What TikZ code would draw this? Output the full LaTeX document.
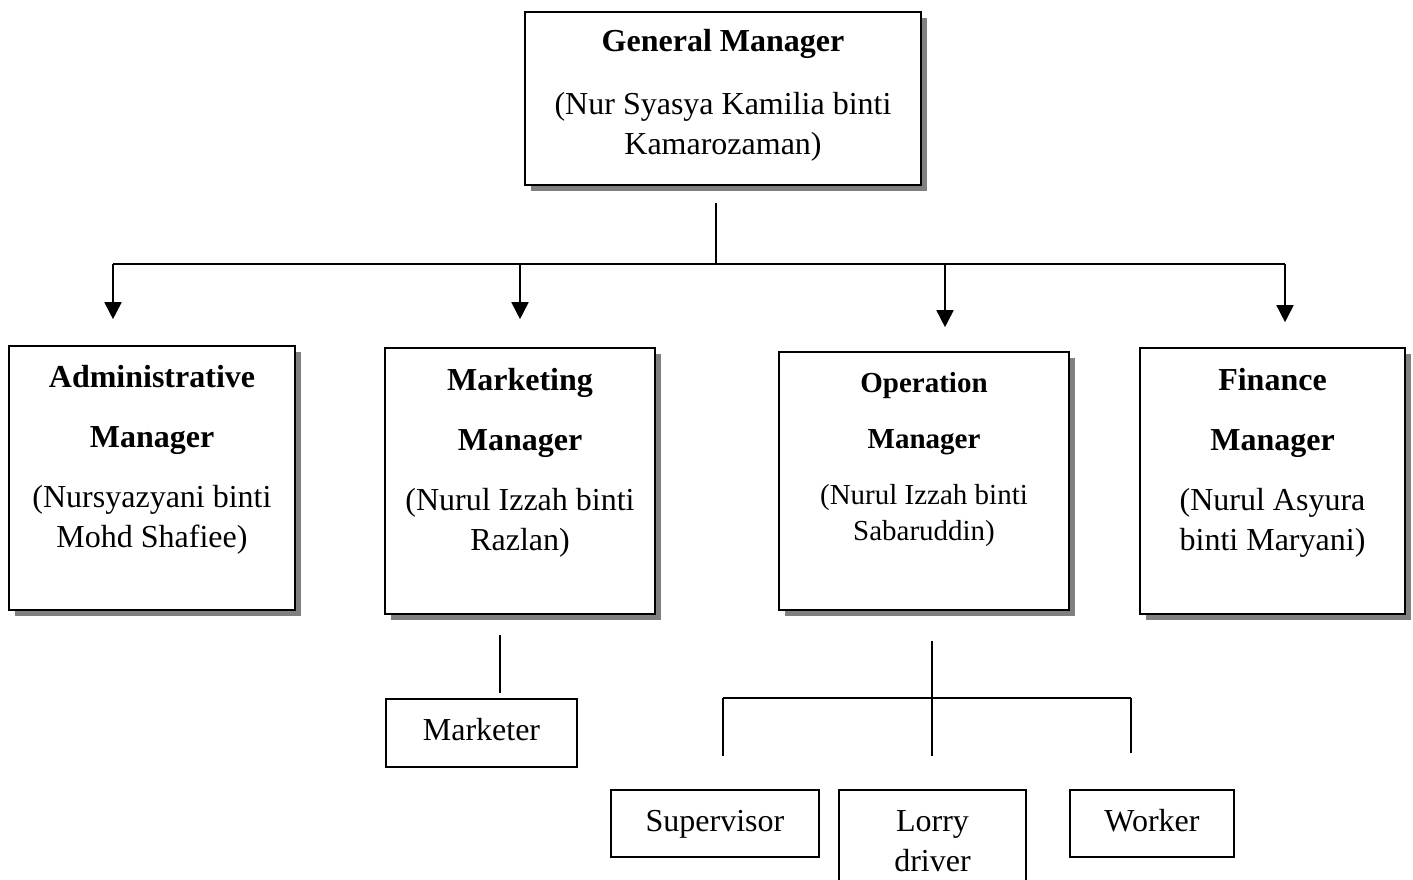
\documentclass[tikz,border=0pt]{standalone}
\usepackage{fontspec}
\setmainfont{Liberation Serif}
\usetikzlibrary{arrows.meta, shadows, positioning}

\begin{document}
\begin{tikzpicture}[
  x=1pt, y=-1pt,
  mgrbox/.style={draw, line width=1.6pt, fill=white, inner sep=0pt,
    drop shadow={shadow xshift=6pt, shadow yshift=-6pt, fill=black!50, opacity=1}},
  staffbox/.style={draw, line width=1.6pt, inner sep=0pt, text height=22pt, text depth=7pt,
    font=\fontsize{32}{40}\selectfont},
  boxtext/.style={align=center, inner sep=0pt, font=\fontsize{32}{40}\selectfont},
  link/.style={line width=1.6pt},
  arrow/.style={line width=1.6pt, -{Triangle[width=17pt,length=17pt]}}
]
\useasboundingbox (0,0) rectangle (1413,880);

% managers
\node[mgrbox, minimum width=396pt, minimum height=173pt] (gm) at (723,98.5) {};
\node[boxtext, below=18pt of gm.north] (gmtext)
  {\textbf{General Manager}\\[23pt](Nur Syasya Kamilia binti\\Kamarozaman)};

\node[mgrbox, minimum width=286pt, minimum height=264pt] (admin) at (152,478) {};
\node[boxtext, below=20pt of admin.north] (admintext)
  {\textbf{Administrative}\\[20pt]\textbf{Manager}\\[20pt](Nursyazyani binti\\Mohd Shafiee)};

\node[mgrbox, minimum width=270pt, minimum height=266pt] (mkt) at (520,481) {};
\node[boxtext, below=21pt of mkt.north] (mkttext)
  {\textbf{Marketing}\\[20pt]\textbf{Manager}\\[20pt](Nurul Izzah binti\\Razlan)};

\node[mgrbox, minimum width=290pt, minimum height=258pt] (op) at (924,481) {};
\node[boxtext, font=\fontsize{29}{36}\selectfont, below=21pt of op.north] (optext)
  {\textbf{Operation}\\[20pt]\textbf{Manager}\\[20pt](Nurul Izzah binti\\Sabaruddin)};

\node[mgrbox, minimum width=265pt, minimum height=266pt] (fin) at (1272.5,481) {};
\node[boxtext, below=21pt of fin.north] (fintext)
  {\textbf{Finance}\\[20pt]\textbf{Manager}\\[20pt](Nurul Asyura\\binti Maryani)};

% staff
\node[staffbox, minimum width=191pt, minimum height=68pt] (marketer) at (481.5,733) {Marketer};
\node[staffbox, minimum width=208pt, minimum height=67pt] (sup) at (715,823.5) {Supervisor};
\node[draw, line width=1.6pt, minimum width=187pt, minimum height=110pt] (lorry) at (932.5,845) {};
\node[boxtext, below=21pt of lorry.north] (lorrytext) {Lorry\\driver};
\node[staffbox, minimum width=164pt, minimum height=67pt] (worker) at (1152,823.5) {Worker};

% junctions
\coordinate (gmjoin) at (716,264);
\coordinate (barL) at (113,264);
\coordinate (barR) at (1285,264);
\coordinate (opdrop) at (945,264);
\coordinate (opjoin) at (932,698);
\coordinate (subL) at (723,698);
\coordinate (subR) at (1131,698);

% connectors
\draw[link, shorten <=17pt] (gmjoin |- gm.south) -- (gmjoin);
\draw[link] (barL) -- (barR);
\draw[arrow, shorten >=26pt] (barL) -- (barL |- admin.north);
\draw[arrow, shorten >=28pt] (mkt.north |- barL) -- (mkt.north);
\draw[arrow, shorten >=24pt] (opdrop) -- (opdrop |- op.north);
\draw[arrow, shorten >=25pt] (barR) -- (barR |- fin.north);

\draw[link, shorten <=20pt, shorten >=5pt] ([xshift=-20pt]mkt.south) -- ([xshift=-20pt]mkt.south |- marketer.north);

\draw[link, shorten <=30pt, shorten >=33pt] (opjoin |- op.south) -- (opjoin |- lorry.north);
\draw[link] (subL) -- (subR);
\draw[link, shorten >=33pt] (subL) -- (subL |- sup.north);
\draw[link, shorten >=36pt] (subR) -- (subR |- worker.north);
\end{tikzpicture}
\end{document}
